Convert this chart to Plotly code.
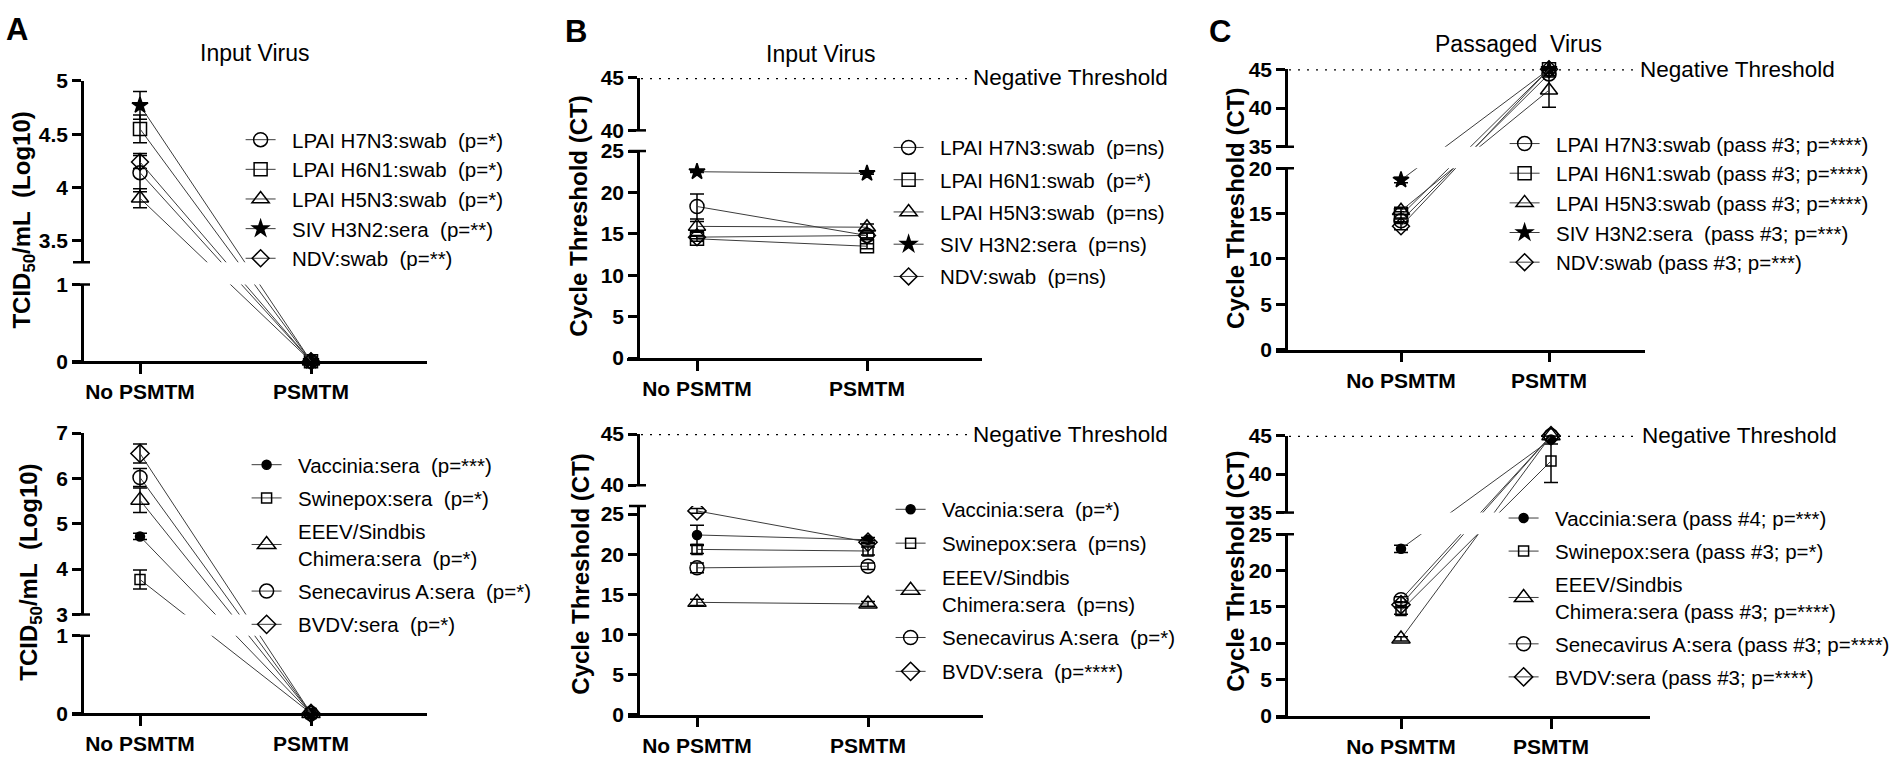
import plotly.graph_objects as go

W, H = 1902, 770
FONT = "Liberation Sans, Arial, sans-serif"
NB = "\u00a0"
LEG_SIZE = 20.5

groups = ["No PSMTM", "PSMTM"]

# ---- values (mean and error bar half-length) ----
# A top: TCID50/mL (Log10), input virus
a_top_labels = ["LPAI H7N3:swab  (p=*)", "LPAI H6N1:swab  (p=*)", "LPAI H5N3:swab  (p=*)",
                "SIV H3N2:sera  (p=**)", "NDV:swab  (p=**)"]
a_top_no = [4.14, 4.55, 3.90, 4.77, 4.24]
a_top_psmtm = [0, 0, 0, 0, 0]
a_top_err_no = [0.18, 0.13, 0.09, 0.13, 0.06]
a_top_err_psmtm = [0, 0, 0, 0, 0]

# A bottom
a_bot_labels = ["Vaccinia:sera  (p=***)", "Swinepox:sera  (p=*)", "EEEV/Sindbis<br>Chimera:sera  (p=*)",
                "Senecavirus A:sera  (p=*)", "BVDV:sera  (p=*)"]
a_bot_no = [4.72, 3.77, 5.52, 6.02, 6.55]
a_bot_psmtm = [0, 0, 0, 0, 0]
a_bot_err_no = [0.07, 0.21, 0.27, 0.20, 0.21]
a_bot_err_psmtm = [0, 0, 0, 0, 0]

# B top: cycle threshold, input virus
b_top_labels = ["LPAI H7N3:swab  (p=ns)", "LPAI H6N1:swab  (p=*)", "LPAI H5N3:swab  (p=ns)",
                "SIV H3N2:sera  (p=ns)", "NDV:swab  (p=ns)"]
b_top_no = [18.3, 14.4, 15.9, 22.5, 14.6]
b_top_psmtm = [14.8, 13.5, 15.8, 22.3, 14.8]
b_top_err_no = [1.5, 0.3, 0.6, 0.1, 0.2]
b_top_err_psmtm = [0.3, 0.3, 0.4, 0.1, 0.3]

# B bottom
b_bot_labels = ["Vaccinia:sera  (p=*)", "Swinepox:sera  (p=ns)", "EEEV/Sindbis<br>Chimera:sera  (p=ns)",
                "Senecavirus A:sera  (p=*)", "BVDV:sera  (p=****)"]
b_bot_no = [22.4, 20.6, 14.0, 18.3, 25.4]
b_bot_psmtm = [21.8, 20.4, 13.8, 18.5, 21.5]
b_bot_err_no = [1.2, 0.5, 0.4, 0.6, 0.3]
b_bot_err_psmtm = [0.3, 0.5, 0.3, 0.4, 0.2]

# C top: cycle threshold, passaged virus
c_top_labels = ["LPAI H7N3:swab (pass #3; p=****)", "LPAI H6N1:swab (pass #3; p=****)",
                "LPAI H5N3:swab (pass #3; p=****)", "SIV H3N2:sera  (pass #3; p=***)",
                "NDV:swab (pass #3; p=***)"]
c_top_no = [14.2, 14.8, 15.3, 18.7, 13.6]
c_top_psmtm = [44.4, 45, 42.3, 45, 45]
c_top_err_no = [0.3, 0.4, 0.4, 0.3, 0.4]
c_top_err_psmtm = [0.4, 0, 2.2, 0, 0]

# C bottom
c_bot_labels = ["Vaccinia:sera (pass #4; p=***)", "Swinepox:sera (pass #3; p=*)",
                "EEEV/Sindbis<br>Chimera:sera (pass #3; p=****)", "Senecavirus A:sera (pass #3; p=****)",
                "BVDV:sera (pass #3; p=****)"]
c_bot_no = [23.0, 14.5, 10.6, 16.0, 15.3]
c_bot_psmtm = [44.5, 41.7, 45, 45, 45]
c_bot_err_no = [0.5, 0.5, 0.3, 0.4, 0.4]
c_bot_err_psmtm = [0.6, 2.8, 0, 0, 0]

# marker styles (by series position)
top_symbols = ["circle-open", "square-open", "triangle-up-open", "star", "diamond-open"]
top_sizes = [14, 13, 15, 12, 13]
bot_symbols = ["circle", "square-open", "triangle-up-open", "circle-open", "diamond-open"]
bot_sizes = [9, 10, 16, 14, 14]

# panel geometry in pixels: y axis x, x-line start/end, tick x, broken-axis segments
# segs = ((lo, hi, px_lo, px_hi) lower, (lo, hi, px_lo, px_hi) upper)
# leg = (text start x, first row y, group gap)
panels = [
    dict(labels=a_top_labels, no=a_top_no, ps=a_top_psmtm, eno=a_top_err_no, eps=a_top_err_psmtm,
         sym=top_symbols, size=top_sizes, ax=82, xl=72, xr=427, xno=140, xps=311,
         segs=((0, 1, 360, 281), (3.3, 5, 258, 71)), ticks=[0, 1, 3.5, 4, 4.5, 5],
         leg=(292, 131, 0), ytitle=("TCID<sub>50</sub>/mL" + NB + " (Log10)", 24, 215), thresh=None),
    dict(labels=a_bot_labels, no=a_bot_no, ps=a_bot_psmtm, eno=a_bot_err_no, eps=a_bot_err_psmtm,
         sym=bot_symbols, size=bot_sizes, ax=82, xl=72, xr=427, xno=140, xps=311,
         segs=((0, 1, 723, 643), (3, 7, 621, 434)), ticks=[0, 1, 3, 4, 5, 6, 7],
         leg=(298, 466, 3.6), ytitle=("TCID<sub>50</sub>/mL" + NB + " (Log10)", 31, 578), thresh=None),
    dict(labels=b_top_labels, no=b_top_no, ps=b_top_psmtm, eno=b_top_err_no, eps=b_top_err_psmtm,
         sym=top_symbols, size=top_sizes, ax=638, xl=627, xr=982, xno=697, xps=867,
         segs=((0, 25, 356.7, 143.3), (40, 45, 122, 68)), ticks=[0, 5, 10, 15, 20, 25, 40, 45],
         leg=(940, 139, 2.6), ytitle=("Cycle Threshold (CT)", 579, 211), thresh=(970, 971)),
    dict(labels=b_bot_labels, no=b_bot_no, ps=b_bot_psmtm, eno=b_bot_err_no, eps=b_bot_err_psmtm,
         sym=bot_symbols, size=bot_sizes, ax=638, xl=628, xr=983, xno=697, xps=868,
         segs=((0, 26, 724.3, 509.3), (40, 45, 487.7, 435)), ticks=[0, 5, 10, 15, 20, 25, 40, 45],
         leg=(942, 512, 4.2), ytitle=("Cycle Threshold (CT)", 581, 580), thresh=(970, 971)),
    dict(labels=c_top_labels, no=c_top_no, ps=c_top_psmtm, eno=c_top_err_no, eps=c_top_err_psmtm,
         sym=top_symbols, size=top_sizes, ax=1286, xl=1276, xr=1645, xno=1401, xps=1549,
         segs=((0, 20, 348, 161), (35, 45, 139, 59)), ticks=[0, 5, 10, 15, 20, 35, 40, 45],
         leg=(1556, 135, 0), ytitle=("Cycle Threshold (CT)", 1236, 203), thresh=(1637, 1638)),
    dict(labels=c_bot_labels, no=c_bot_no, ps=c_bot_psmtm, eno=c_bot_err_no, eps=c_bot_err_psmtm,
         sym=bot_symbols, size=bot_sizes, ax=1286, xl=1276, xr=1650, xno=1401, xps=1551,
         segs=((0, 25, 725.7, 538.3), (35, 45, 516, 436.7)), ticks=[0, 5, 10, 15, 20, 25, 35, 40, 45],
         leg=(1555, 521, 3.4), ytitle=("Cycle Threshold (CT)", 1236, 577), thresh=(1637, 1640)),
]


def to_px(v, segs):
    (a0, a1, p0, p1), (b0, b1, q0, q1) = segs
    if v <= a1 + 1e-9:
        return p0 + (v - a0) / (a1 - a0) * (p1 - p0)
    return q0 + (v - b0) / (b1 - b0) * (q1 - q0)


def to_t(v, segs):
    # broken axis -> one linear coordinate (0 bottom, 1 top)
    bottom, top = segs[0][2], segs[1][3]
    return (bottom - to_px(v, segs)) / (bottom - top)


def legend_name(s):
    s = s.replace("  ", NB + " ")
    return NB * 2 + s.replace("<br>", "<br>" + NB * 2)


fig = go.Figure()
shapes, annotations = [], []
layout = {}
first_half = (LEG_SIZE * 1.3 + 3) / 2 + 5
text_offset = 40 + 2 * 0.278 * LEG_SIZE

for k, p in enumerate(panels, start=1):
    sfx = "" if k == 1 else str(k)
    xa, ya = "x" + sfx, "y" + sfx
    leg = "legend" + sfx
    segs = p["segs"]

    for i, name in enumerate(p["labels"]):
        vals = [p["no"][i], p["ps"][i]]
        errs = [p["eno"][i], p["eps"][i]]
        ty = [to_t(v, segs) for v in vals]
        up = [to_t(v + e, segs) - to_t(v, segs) if e > 0 else None for v, e in zip(vals, errs)]
        dn = [to_t(v, segs) - to_t(v - e, segs) if e > 0 else None for v, e in zip(vals, errs)]
        fig.add_trace(go.Scatter(
            x=groups, y=ty, xaxis=xa, yaxis=ya, mode="lines+markers",
            name=legend_name(name), legend=leg, legendgroup=f"g{k}_{i}",
            line=dict(color="#3c3c3c", width=1),
            marker=dict(symbol=p["sym"][i], size=p["size"][i], color="black",
                        line=dict(color="black", width=1.5)),
            error_y=dict(type="data", symmetric=False, array=up, arrayminus=dn,
                         color="black", thickness=1.5, width=7),
            cliponaxis=False, hoverinfo="skip"))

    bottom_px, top_px = segs[0][2], segs[1][3]
    span = p["xps"] - p["xno"]
    layout["xaxis" + sfx] = dict(
        domain=[p["xl"] / W, p["xr"] / W], anchor=ya, type="category",
        categoryorder="array", categoryarray=groups,
        range=[-(p["xno"] - p["xl"]) / span, 1 + (p["xr"] - p["xps"]) / span],
        showline=True, linewidth=2.5, linecolor="black", ticks="outside", ticklen=10,
        tickwidth=2.5, tickcolor="black", showgrid=False, zeroline=False,
        tickfont=dict(family=FONT, size=21, color="black", weight="bold"))
    layout["yaxis" + sfx] = dict(
        domain=[1 - bottom_px / H, 1 - top_px / H], anchor="free", position=p["ax"] / W,
        range=[0, 1], tickmode="array", tickvals=[to_t(v, segs) for v in p["ticks"]],
        ticktext=[f"{v:g}" for v in p["ticks"]],
        showline=True, linewidth=2.5, linecolor="black", ticks="outside", ticklen=9,
        tickwidth=2.5, tickcolor="black", showgrid=False, zeroline=False,
        tickfont=dict(family=FONT, size=21, color="black", weight="bold"))

    tx, first_row, gap = p["leg"]
    layout[leg] = dict(x=(tx - text_offset) / W, y=1 - (first_row - first_half) / H, xanchor="left",
                       yanchor="top", bgcolor="rgba(0,0,0,0)", tracegroupgap=gap,
                       font=dict(family=FONT, size=LEG_SIZE, color="black"))

    # white band that opens the axis break, then the end caps of both segments
    t_gap_lo, t_gap_hi = to_t(segs[0][1], segs), to_t(segs[1][0], segs)
    shapes.append(dict(type="rect", xref="paper", yref=ya, x0=(p["ax"] - 2) / W,
                       x1=(p["xr"] + 1) / W, y0=t_gap_lo, y1=t_gap_hi,
                       fillcolor="white", line=dict(width=0), layer="above"))
    for tv in (t_gap_lo, t_gap_hi):
        shapes.append(dict(type="line", xref="paper", yref=ya, x0=(p["ax"] - 9) / W,
                           x1=(p["ax"] + 8) / W, y0=tv, y1=tv,
                           line=dict(color="black", width=2.5), layer="above"))

    if p["thresh"]:
        x_end, x_txt = p["thresh"]
        shapes.append(dict(type="line", xref="paper", yref=ya, x0=(p["ax"] + 3) / W, x1=x_end / W,
                           y0=to_t(45, segs), y1=to_t(45, segs),
                           line=dict(color="black", width=2.5, dash="2px,7px"), layer="above"))
        annotations.append(dict(text="Negative Threshold", xref="paper", yref=ya, x=x_txt / W,
                                y=to_t(45, segs), xanchor="left", yanchor="middle", showarrow=False,
                                font=dict(family=FONT, size=22.5, color="black")))

    ytxt, yx, yy = p["ytitle"]
    annotations.append(dict(text="<b>" + ytxt + "</b>", xref="paper", yref="paper", x=yx / W,
                            y=1 - yy / H, textangle=-90, xanchor="center", yanchor="middle",
                            showarrow=False, font=dict(family=FONT, size=24, color="black")))

# panel titles and letters
for txt, x, y in [("Input Virus", 255, 42), ("Input Virus", 821, 43),
                  ("Passaged" + NB + " Virus", 1518, 33)]:
    annotations.append(dict(text=txt, xref="paper", yref="paper", x=x / W, y=1 - y / H,
                            xanchor="center", yanchor="middle", showarrow=False,
                            font=dict(family=FONT, size=23, color="black")))
for txt, x, y in [("A", 17, 18), ("B", 576, 20), ("C", 1220, 20)]:
    annotations.append(dict(text="<b>" + txt + "</b>", xref="paper", yref="paper", x=x / W,
                            y=1 - y / H, xanchor="center", yanchor="middle", showarrow=False,
                            font=dict(family=FONT, size=31, color="black")))

fig.update_layout(
    width=W, height=H, margin=dict(l=0, r=0, t=0, b=0),
    paper_bgcolor="white", plot_bgcolor="white",
    font=dict(family=FONT, color="black"),
    shapes=shapes, annotations=annotations, **layout)

# the page's default body margin would push the 1902x770 figure out of the window
fig.write_html("out.html", config={"displayModeBar": False},
               post_script="document.body.style.margin='0px';")
